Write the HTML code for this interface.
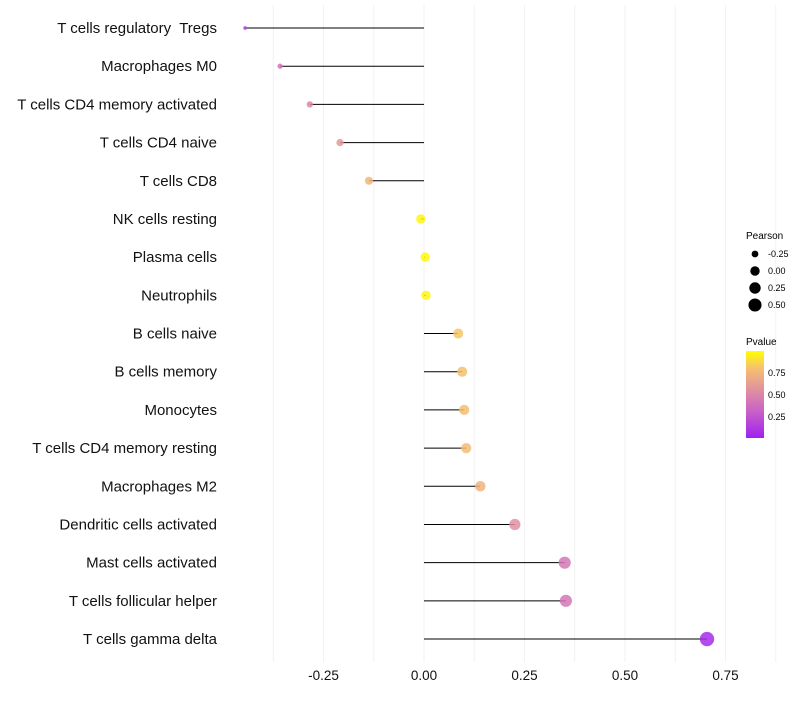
<!DOCTYPE html>
<html><head><meta charset="utf-8"><style>
body{margin:0;background:#fff;font-family:"Liberation Sans",sans-serif}
text{white-space:pre}
</style></head><body>
<svg id="chart" width="800" height="700" xmlns="http://www.w3.org/2000/svg">
<defs><linearGradient id="pg" x1="0" y1="1" x2="0" y2="0">
<stop offset="0" stop-color="#a020f0"/><stop offset="0.3" stop-color="#c860c8"/><stop offset="0.55" stop-color="#e090a0"/><stop offset="0.8" stop-color="#f5c070"/><stop offset="1" stop-color="#ffff00"/></linearGradient></defs>
<g id="grid"></g><g id="marks"></g><g id="labels"></g>
<g font-size="9" fill="#000">
<text x="746" y="239" font-size="10">Pearson</text>
<g id="sizeLegend"></g>
<text x="746" y="345" font-size="10">Pvalue</text>
<rect x="746" y="351" width="18" height="87" fill="url(#pg)"/>
<text x="768" y="376">0.75</text><text x="768" y="398">0.50</text><text x="768" y="420">0.25</text>
</g>
</svg>
<script>
const categories=["T cells regulatory  Tregs","Macrophages M0","T cells CD4 memory activated","T cells CD4 naive","T cells CD8","NK cells resting","Plasma cells","Neutrophils","B cells naive","B cells memory","Monocytes","T cells CD4 memory resting","Macrophages M2","Dendritic cells activated","Mast cells activated","T cells follicular helper","T cells gamma delta"];
const pearson=[-0.445,-0.358,-0.284,-0.209,-0.137,-0.008,0.003,0.005,0.085,0.095,0.10,0.105,0.14,0.226,0.35,0.353,0.704];
const pvalue=[0.15,0.4,0.5,0.6,0.75,0.97,0.98,0.97,0.82,0.8,0.79,0.78,0.74,0.55,0.42,0.42,0.05];
const xTicks=[-0.25,0,0.25,0.5,0.75];
const xTickLabels=["-0.25","0.00","0.25","0.50","0.75"];
const sizeLegendVals=[-0.25,0,0.25,0.5];
const sizeLegendLabels=["-0.25","0.00","0.25","0.50"];
const NS="http://www.w3.org/2000/svg";
const x=v=>424+v*402;
const y=i=>28+i*38.19;
const r=v=>Math.sqrt(Math.max(1,22+42*v));
function lerp(a,b,t){return a.map((c,i)=>Math.round(c+(b[i]-c)*t));}
const stops=[[0,[160,32,240]],[0.3,[200,96,200]],[0.55,[224,144,160]],[0.8,[245,192,112]],[1,[255,255,0]]];
function col(p){for(let i=1;i<stops.length;i++){if(p<=stops[i][0]){const t=(p-stops[i-1][0])/(stops[i][0]-stops[i-1][0]);return "rgb("+lerp(stops[i-1][1],stops[i][1],t).join(",")+")";}}return "rgb(255,255,0)";}
function mk(t,a,p){const e=document.createElementNS(NS,t);for(const k in a)e.setAttribute(k,a[k]);p.appendChild(e);return e;}
const grid=document.getElementById('grid'),marks=document.getElementById('marks'),labels=document.getElementById('labels');
for(let v=-0.375;v<=0.876;v+=0.125){const g=mk('line',{x1:x(v),x2:x(v),y1:5,y2:662,stroke:'#f2f2f2','stroke-width':1},grid);

}
xTicks.forEach((v,i)=>{const t=mk('text',{x:x(v),y:680,'text-anchor':'middle','font-size':13.5,fill:'#111'},labels);t.textContent=xTickLabels[i];

});
categories.forEach((c,i)=>{
const t=mk('text',{x:217,y:y(i)+5,'text-anchor':'end','font-size':15,fill:'#111'},labels);t.textContent=c;


const l=mk('line',{x1:x(0),x2:x(pearson[i]),y1:y(i),y2:y(i),stroke:'#000','stroke-width':1},marks);


const d=mk('circle',{cx:x(pearson[i]),cy:y(i),r:r(pearson[i]),fill:col(pvalue[i]),'fill-opacity':0.85},marks);


});
const sl=document.getElementById('sizeLegend');
sizeLegendVals.forEach((v,i)=>{const cy=254+i*17;
const c=mk('circle',{cx:755,cy:cy,r:r(v),fill:'#000'},sl);


const t=mk('text',{x:768,y:cy+3,'font-size':9},sl);t.textContent=sizeLegendLabels[i];

});
</script>
</body></html>
